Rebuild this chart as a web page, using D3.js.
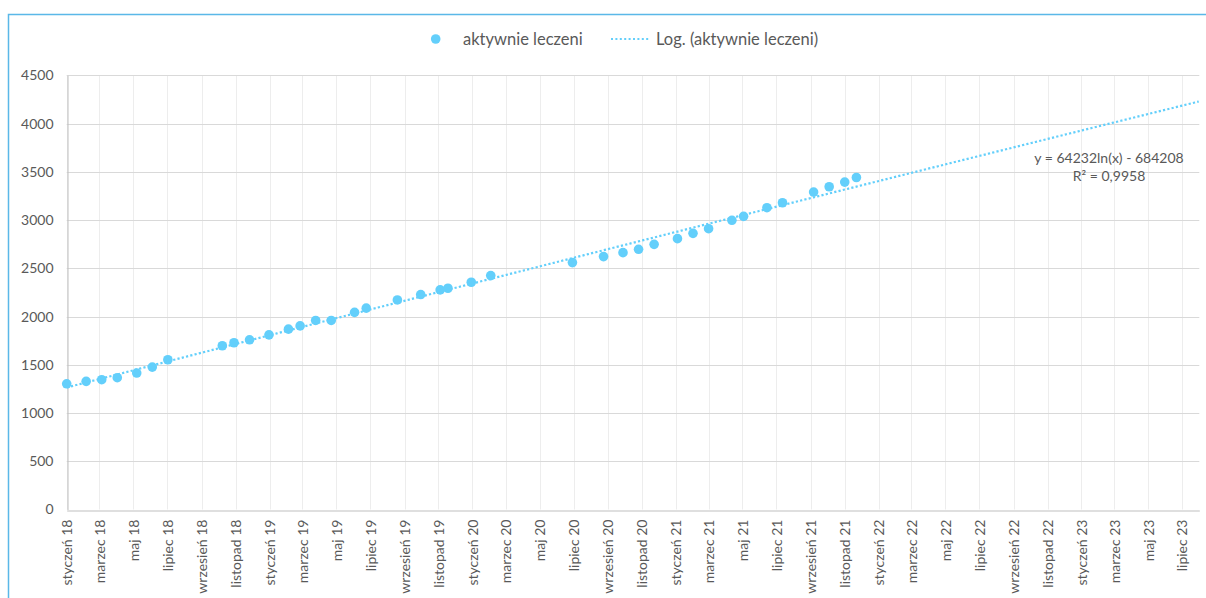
<!DOCTYPE html>
<html lang="pl">
<head>
<meta charset="utf-8">
<script src="https://cdn.jsdelivr.net/npm/d3@7"></script>
<style>
  html, body { margin: 0; padding: 0; background: #fff; }
  svg { display: block; font-family: Lato, "Open Sans", sans-serif; }
</style>
</head>
<body>
<svg id="chart" width="1206" height="598"></svg>
<script>
// Dates of each observation (weekly report days)
const dates = [
  "2018-01-01","2018-02-05","2018-03-05","2018-04-02","2018-05-07","2018-06-04","2018-07-02",
  "2018-10-08","2018-10-29","2018-11-26","2018-12-31",
  "2019-02-04","2019-02-25","2019-03-25","2019-04-22","2019-06-03","2019-06-24",
  "2019-08-19","2019-09-30","2019-11-04","2019-11-18","2019-12-30",
  "2020-02-03","2020-06-29","2020-08-24","2020-09-28","2020-10-26","2020-11-23",
  "2021-01-04","2021-02-01","2021-03-01","2021-04-12","2021-05-03","2021-06-14",
  "2021-07-12","2021-09-06","2021-10-04","2021-11-01","2021-11-22"
];
// Number of patients under active treatment
const activeTreated = [
  1303, 1328, 1345, 1366, 1414, 1476, 1552,
  1697, 1728, 1759, 1810,
  1869, 1903, 1959, 1959, 2043, 2087,
  2172, 2228, 2276, 2293, 2355,
  2424, 2559, 2621, 2662, 2697, 2748,
  2807, 2862, 2910, 2997, 3038, 3128,
  3179, 3290, 3345, 3393, 3441
];
const seriesName = "aktywnie leczeni";
const trendName = "Log. (aktywnie leczeni)";
const equationLines = ["y = 64232ln(x) - 684208", "R\u00B2 = 0,9958"];
const monthNames = ["styczeń","luty","marzec","kwiecień","maj","czerwiec",
                    "lipiec","sierpień","wrzesień","październik","listopad","grudzień"];
const xDomain = ["2018-01-01", "2023-08-01"];
const yTicks = [0, 500, 1000, 1500, 2000, 2500, 3000, 3500, 4000, 4500];

const parse = d3.utcParse("%Y-%m-%d");
const data = dates.map((d, i) => ({ date: parse(d), value: activeTreated[i] }));

const svg = d3.select("#chart");
const plot = { left: 66.7, right: 1199.3, top: 75.3, bottom: 509.5 };

const pointColor = "#63cffb";
const textColor = "#595959";

// Chart frame
svg.append("rect")
  .attr("x", 8.5).attr("y", 14.5)
  .attr("width", 1220).attr("height", 620)
  .attr("fill", "#fff")
  .attr("stroke", "#5ab8e8").attr("stroke-width", 1.5);

const x = d3.scaleUtc().domain(xDomain.map(parse)).range([plot.left, plot.right]);
const y = d3.scaleLinear().domain([0, 4500]).range([plot.bottom, plot.top]);

const xTicks = d3.utcMonth.range(parse("2018-01-01"), parse("2023-08-01"), 2);

// Vertical gridlines
svg.append("g").selectAll("line").data(xTicks).join("line")
  .attr("x1", d => Math.round(x(d)) + 0.5).attr("x2", d => Math.round(x(d)) + 0.5)
  .attr("y1", plot.top).attr("y2", plot.bottom)
  .attr("stroke", "#ededed").attr("stroke-width", 1);

// Horizontal gridlines
svg.append("g").selectAll("line").data(yTicks.filter(d => d > 0)).join("line")
  .attr("x1", plot.left).attr("x2", plot.right)
  .attr("y1", d => Math.round(y(d)) + 0.5).attr("y2", d => Math.round(y(d)) + 0.5)
  .attr("stroke", "#d9d9d9").attr("stroke-width", 1);

// Y axis
const yAxis = svg.append("g")
  .attr("transform", `translate(${Math.round(plot.left) + 0.5},0)`)
  .call(d3.axisLeft(y).tickValues(yTicks).tickFormat(d3.format("d")).tickSize(0).tickPadding(14));
yAxis.select(".domain").attr("stroke", "#bfbfbf").attr("stroke-width", 1);
yAxis.selectAll("text").attr("fill", textColor).style("font-size", "14px")
  .style("font-family", "Lato, sans-serif");

// X axis with rotated month labels
const monthLabel = d => `${monthNames[d.getUTCMonth()]} ${String(d.getUTCFullYear()).slice(2)}`;
const xAxis = svg.append("g")
  .attr("transform", `translate(0,${Math.round(plot.bottom) + 0.5})`)
  .call(d3.axisBottom(x).tickValues(xTicks).tickFormat(monthLabel).tickSize(0));
xAxis.select(".domain").attr("stroke", "#bfbfbf").attr("stroke-width", 1);
xAxis.selectAll("text")
  .attr("fill", textColor).style("font-size", "14px").style("font-family", "Lato, sans-serif")
  .attr("transform", "rotate(-90)")
  .attr("text-anchor", "end")
  .attr("x", -9).attr("y", 0).attr("dy", "0.35em");

// Logarithmic least-squares trendline on Excel date serials
const serial = d => (d - Date.UTC(1899, 11, 30)) / 864e5;
const lx = data.map(d => Math.log(serial(d.date)));
const ly = data.map(d => d.value);
const mx = d3.mean(lx), my = d3.mean(ly);
const slope = d3.sum(lx, (v, i) => (v - mx) * (ly[i] - my)) / d3.sum(lx, v => (v - mx) ** 2);
const intercept = my - slope * mx;
const trendDates = d3.utcDay.range(parse(xDomain[0]), d3.utcDay.offset(parse(xDomain[1]), 1), 7);
const trend = d3.line()
  .x(d => x(d))
  .y(d => y(slope * Math.log(serial(d)) + intercept));

svg.append("path")
  .datum(trendDates)
  .attr("d", trend)
  .attr("fill", "none")
  .attr("stroke", pointColor)
  .attr("stroke-width", 2.2)
  .attr("stroke-dasharray", "2.2 2.2");

// Data points
svg.append("g").selectAll("circle").data(data).join("circle")
  .attr("cx", d => x(d.date)).attr("cy", d => y(d.value))
  .attr("r", 4.8).attr("fill", pointColor);

// Trendline equation
const eq = svg.append("text")
  .attr("x", 1109).attr("y", 163)
  .attr("text-anchor", "middle")
  .attr("fill", textColor).style("font-size", "14px");
eq.selectAll("tspan").data(equationLines).join("tspan")
  .attr("x", 1109).attr("dy", (d, i) => i === 0 ? 0 : 18).text(d => d);

// Legend
const legend = svg.append("g");
legend.append("circle").attr("cx", 435.7).attr("cy", 39).attr("r", 4.8).attr("fill", pointColor);
legend.append("text").attr("x", 463).attr("y", 45)
  .attr("fill", textColor).style("font-size", "16.5px").text(seriesName);
legend.append("line").attr("x1", 611).attr("x2", 649).attr("y1", 39).attr("y2", 39)
  .attr("stroke", pointColor).attr("stroke-width", 2).attr("stroke-dasharray", "2 2.4");
legend.append("text").attr("x", 656).attr("y", 45)
  .attr("fill", textColor).style("font-size", "16.5px").text(trendName);
</script>
</body>
</html>
